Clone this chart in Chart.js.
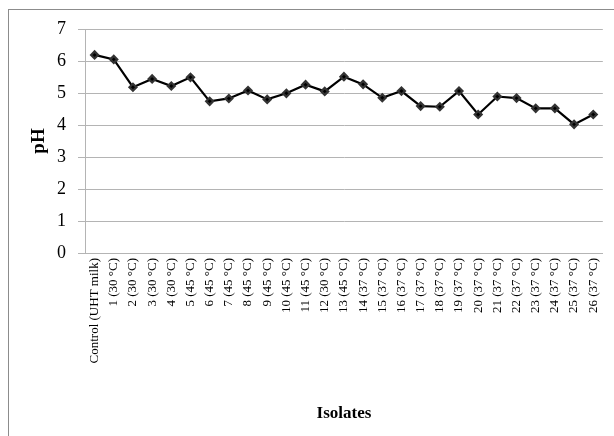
<!DOCTYPE html>
<html>
<head>
<meta charset="utf-8">
<script src="https://cdn.jsdelivr.net/npm/chart.js@4/dist/chart.umd.min.js"></script>
<style>
  html, body { margin: 0; padding: 0; background: #fff; }
  #wrap { position: relative; width: 614px; height: 436px; overflow: hidden; }
  #frame { position: absolute; left: 8px; top: 9px; width: 700px; height: 500px; border: 1px solid #8c8c8c; }
  canvas { position: absolute; left: 0; top: 0; }
</style>
</head>
<body>
<div id="wrap">
  <div id="frame"></div>
  <canvas id="phChart" width="614" height="436"></canvas>
</div>
<script>
const isolates = [
    "Control (UHT milk)", "1 (30 °C)", "2 (30 °C)", "3 (30 °C)", "4 (30 °C)",
    "5 (45 °C)", "6 (45 °C)", "7 (45 °C)", "8 (45 °C)", "9 (45 °C)",
    "10 (45 °C)", "11 (45 °C)", "12 (30 °C)", "13 (45 °C)", "14 (37 °C)",
    "15 (37 °C)", "16 (37 °C)", "17 (37 °C)", "18 (37 °C)", "19 (37 °C)",
    "20 (37 °C)", "21 (37 °C)", "22 (37 °C)", "23 (37 °C)", "24 (37 °C)",
    "25 (37 °C)", "26 (37 °C)"
];
const phValues = [
    6.19, 6.05, 5.18, 5.44, 5.22, 5.49, 4.74, 4.83, 5.08, 4.80,
    4.99, 5.26, 5.05, 5.51, 5.27, 4.85, 5.06, 4.59, 4.57, 5.06,
    4.33, 4.89, 4.84, 4.52, 4.52, 4.02, 4.33
];
const yMin = 0, yMax = 7, yStep = 1;

const serif = "'Liberation Serif', 'Times New Roman', serif";
const gridColor = "#b4b4b4";

const ctx = document.getElementById("phChart").getContext("2d");

new Chart(ctx, {
    type: "line",
    data: {
        labels: isolates,
        datasets: [{
            label: "pH",
            data: phValues,
            borderColor: "#000",
            borderWidth: 2.2,
            backgroundColor: "#000",
            pointStyle: "rectRot",
            pointRadius: 3.5,
            pointBorderColor: "#333",
            pointBackgroundColor: "#000",
            tension: 0
        }]
    },
    options: {
        responsive: false,
        animation: false,
        layout: { padding: { left: 20, right: 8, top: 29, bottom: 8 } },
        scales: {
            x: {
                offset: true,
                grid: { display: false, drawTicks: false },
                border: { display: true, color: gridColor, width: 1 },
                ticks: {
                    minRotation: 90, maxRotation: 90, autoSkip: false,
                    padding: 5, color: "#000",
                    font: { family: serif, size: 13 }
                },
                title: {
                    display: true, text: "Isolates", color: "#000",
                    font: { family: serif, size: 17, weight: "bold" },
                    padding: { top: 4, bottom: 4 }
                },
                afterFit: (axis) => { axis.height = 175; }
            },
            y: {
                min: yMin, max: yMax,
                grid: { color: gridColor, lineWidth: 1, tickLength: 7 },
                border: { display: true, color: gridColor, width: 1 },
                ticks: {
                    stepSize: yStep, padding: 12, color: "#000",
                    font: { family: serif, size: 18 }
                },
                title: {
                    display: true, text: "pH", color: "#000",
                    font: { family: serif, size: 19, weight: "bold" },
                    padding: { top: 8, bottom: 0 }
                },
                afterFit: (axis) => { axis.width = 65; }
            }
        },
        plugins: {
            legend: { display: false },
            tooltip: { enabled: false }
        }
    }
});
</script>
</body>
</html>
